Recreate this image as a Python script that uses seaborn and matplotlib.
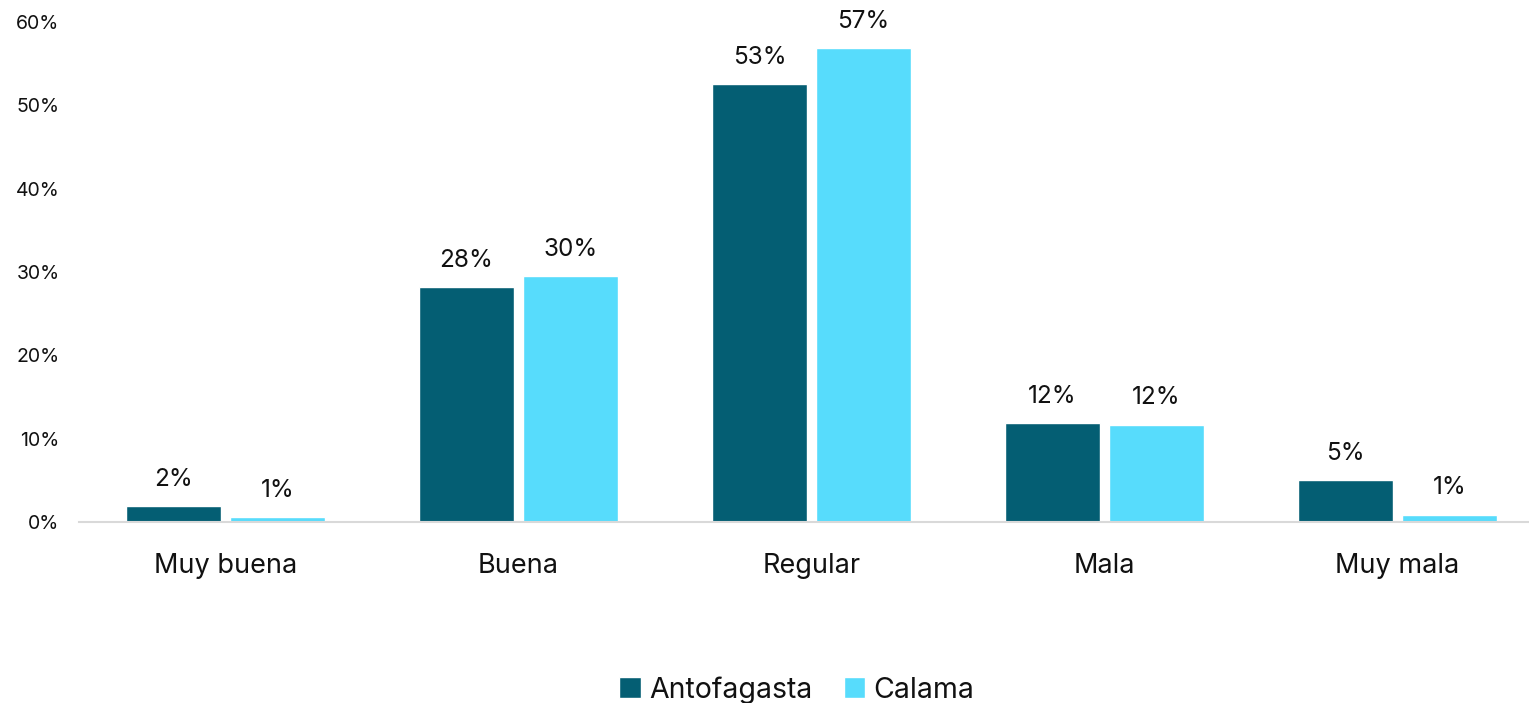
import pandas as pd
import numpy as np
import matplotlib.pyplot as plt
import matplotlib.ticker as mticker
import seaborn as sns

# Datos
categorias = ["Muy buena", "Buena", "Regular", "Mala", "Muy mala"]
antofagasta = [1.9, 28.2, 52.5, 11.9, 5.0]
calama = [0.6, 29.5, 56.9, 11.7, 0.9]
etiquetas_antofagasta = ["2%", "28%", "53%", "12%", "5%"]
etiquetas_calama = ["1%", "30%", "57%", "12%", "1%"]

sns.set_style("white")
plt.rcParams['font.family'] = ['Inter', 'DejaVu Sans']

df = pd.DataFrame({
    "categoria": categorias * 2,
    "valor": antofagasta + calama,
    "ciudad": ["Antofagasta"] * len(categorias) + ["Calama"] * len(categorias),
})

fig = plt.figure(figsize=(15.29, 7.03), dpi=100, facecolor='white')
ax = fig.add_axes([79/1529, 181/703, 1465/1529, 500/703])

colores = {"Antofagasta": "#045E73", "Calama": "#57DCFC"}
sns.barplot(data=df, x="categoria", y="valor", hue="ciudad", palette=colores,
            width=0.71, gap=0.087, saturation=1, ax=ax, legend=True)

# Etiquetas de datos
for cont, etiquetas in zip(ax.containers, [etiquetas_antofagasta, etiquetas_calama]):
    ax.bar_label(cont, labels=etiquetas, padding=11, fontsize=17.5, color="#111111")

ax.set_ylim(0, 60)
ax.set_xlim(-0.5, 4.5)
ax.yaxis.set_major_locator(mticker.MultipleLocator(10))
ax.yaxis.set_major_formatter(mticker.FuncFormatter(lambda v, p: f"{v:.0f}%"))
ax.set_xlabel('')
ax.set_ylabel('')
ax.tick_params(axis='y', labelsize=14, length=0, pad=14, labelcolor="#111111")
ax.tick_params(axis='x', labelsize=19.5, length=0, pad=22, labelcolor="#111111")

for lado in ["top", "right", "left"]:
    ax.spines[lado].set_visible(False)
ax.spines["bottom"].set_color("#D9D9D9")
ax.spines["bottom"].set_linewidth(1.5)
ax.grid(False)

ax.legend(loc="center", bbox_to_anchor=(718/1465, -0.336), ncol=2, frameon=False,
          fontsize=20.5, handlelength=0.75, handleheight=0.75, handletextpad=0.3,
          columnspacing=1.1, labelcolor="#111111")

fig.savefig("out.png", dpi=100)
